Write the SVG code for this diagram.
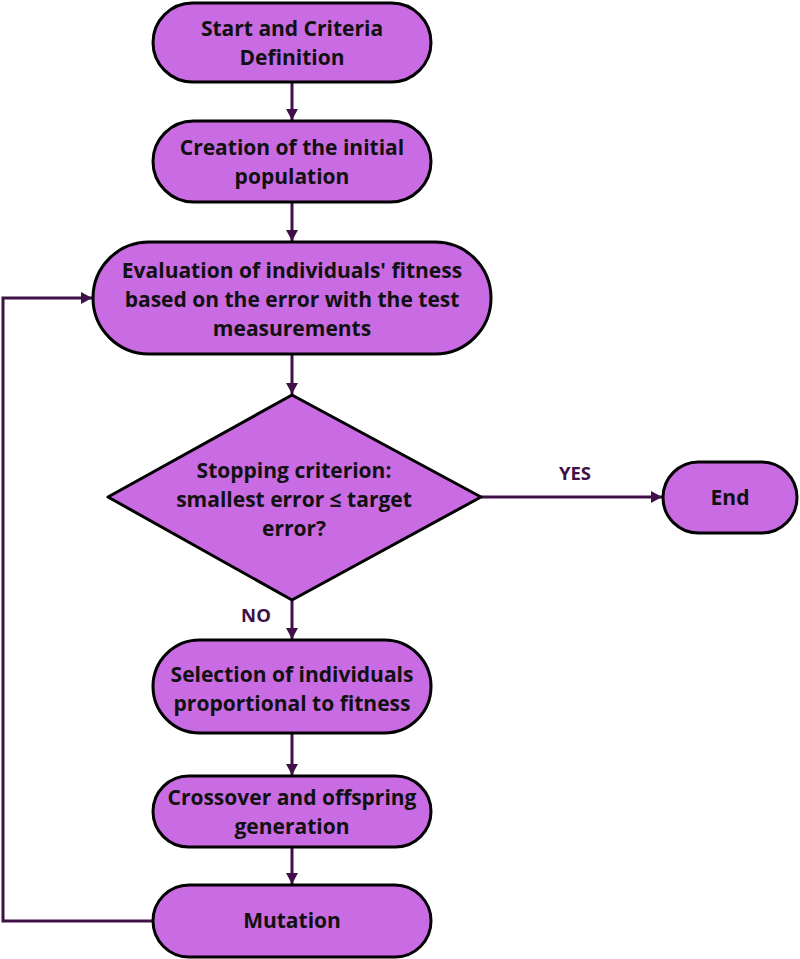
<svg xmlns="http://www.w3.org/2000/svg" width="800" height="959" viewBox="0 0 800 959">
<style>
.n{fill:#C96BE3;stroke:#000;stroke-width:3}
.t{font-family:"Open Sans","Noto Sans",sans-serif;font-weight:700;font-size:21px;fill:#111;text-anchor:middle}
.l{font-family:"Open Sans","Noto Sans",sans-serif;font-weight:700;font-size:18.5px;fill:#3F1147;text-anchor:middle}
.c{fill:none;stroke:#3F1147;stroke-width:3}
</style>
<defs>
<marker id="a" markerUnits="userSpaceOnUse" markerWidth="13" markerHeight="13" refX="11" refY="6.5" orient="auto">
<path d="M0,0.5 L11,6.5 L0,12.5 Z" fill="#3F1147"/>
</marker>
</defs>
<rect width="800" height="959" fill="#fff"/>
<g id="connectors">
<path class="c" d="M292,82 V120" marker-end="url(#a)"/>
<path class="c" d="M292,202 V241" marker-end="url(#a)"/>
<path class="c" d="M292,354 V394" marker-end="url(#a)"/>
<path class="c" d="M481,497 H662" marker-end="url(#a)"/>
<path class="c" d="M292,600 V639" marker-end="url(#a)"/>
<path class="c" d="M292,733 V775" marker-end="url(#a)"/>
<path class="c" d="M292,847 V884" marker-end="url(#a)"/>
<path class="c" d="M153,921 H3 V298 H92" marker-end="url(#a)"/>
<text class="l" x="575" y="480">YES</text>
<text class="l" x="256" y="622">NO</text>
</g>
<g id="start">
<rect class="n" x="153" y="3" width="278" height="79" rx="39.5"/>
<text class="t" x="292" y="36">Start and Criteria</text>
<text class="t" x="292" y="65">Definition</text>
</g>
<g id="init">
<rect class="n" x="153" y="121" width="278" height="81" rx="40.5"/>
<text class="t" x="292" y="155">Creation of the initial</text>
<text class="t" x="292" y="184">population</text>
</g>
<g id="eval">
<rect class="n" x="93" y="242" width="398" height="112" rx="56"/>
<text class="t" x="292" y="278">Evaluation of individuals' fitness</text>
<text class="t" x="292" y="307">based on the error with the test</text>
<text class="t" x="292" y="336">measurements</text>
</g>
<g id="stop">
<path class="n" d="M292,395 L481,497 L292,600 L108,497 Z" stroke-linejoin="round"/>
<text class="t" x="294" y="478">Stopping criterion:</text>
<text class="t" x="294" y="507">smallest error ≤ target</text>
<text class="t" x="294" y="536">error?</text>
</g>
<g id="end">
<rect class="n" x="663" y="462" width="134" height="71" rx="35.5"/>
<text class="t" x="730" y="505">End</text>
</g>
<g id="select">
<rect class="n" x="153" y="640" width="278" height="93" rx="46.5"/>
<text class="t" x="292" y="682">Selection of individuals</text>
<text class="t" x="292" y="711">proportional to fitness</text>
</g>
<g id="cross">
<rect class="n" x="153" y="776" width="278" height="71" rx="35.5"/>
<text class="t" x="292" y="805">Crossover and offspring</text>
<text class="t" x="292" y="834">generation</text>
</g>
<g id="mutation">
<rect class="n" x="153" y="885" width="278" height="72" rx="36"/>
<text class="t" x="292" y="928">Mutation</text>
</g>
</svg>
